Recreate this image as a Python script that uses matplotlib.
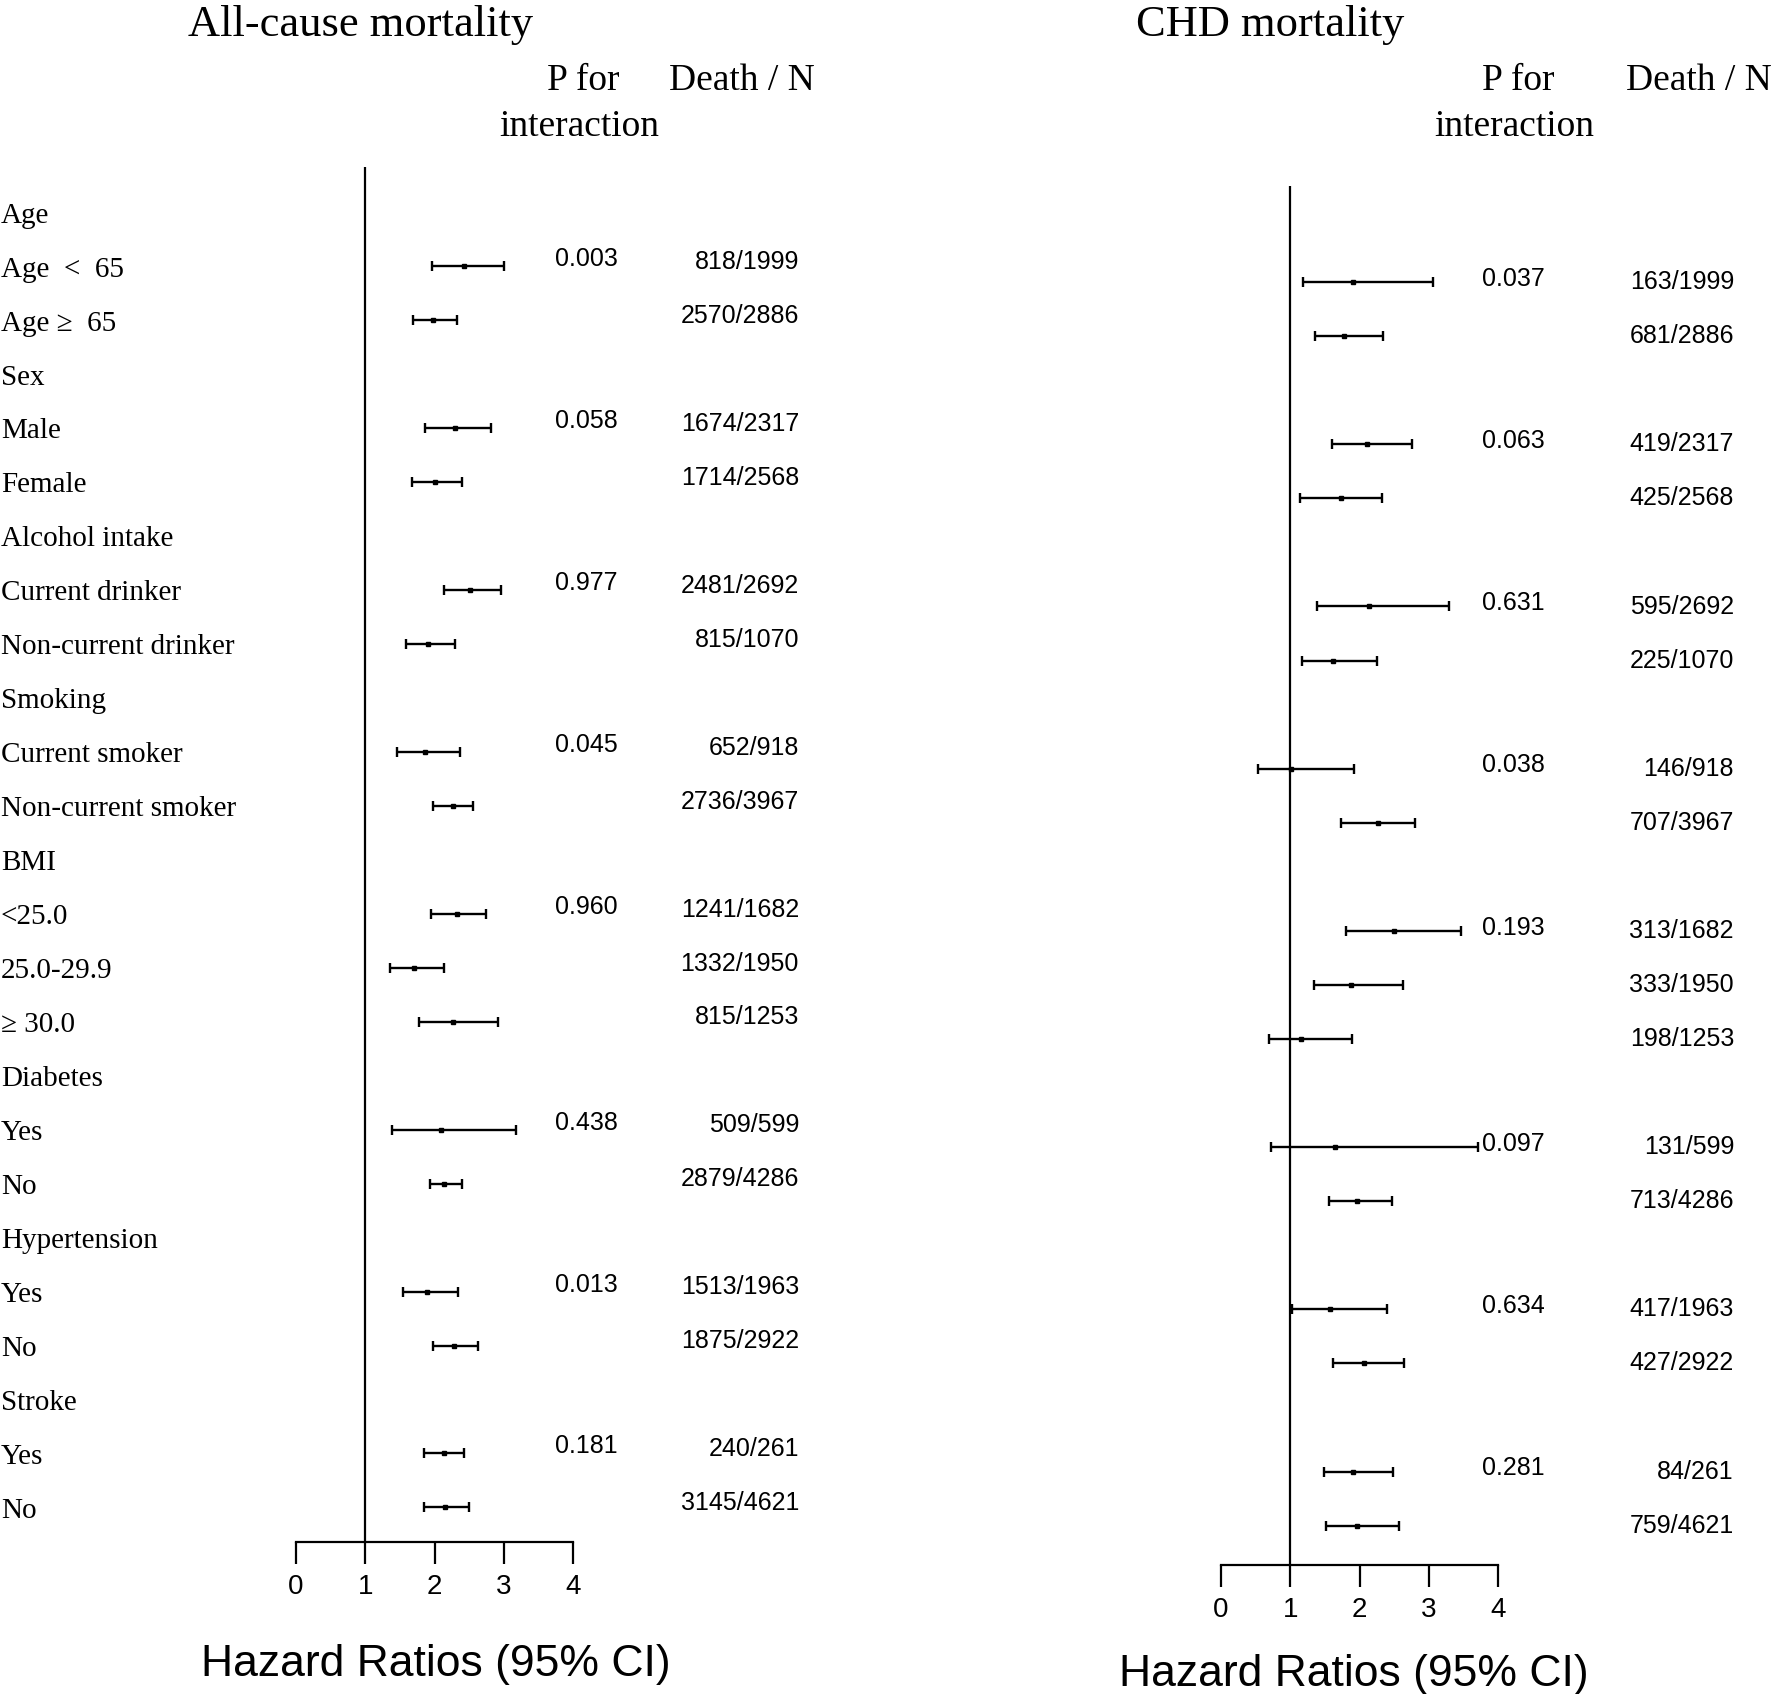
import numpy as np
import matplotlib
matplotlib.use("Agg")
import matplotlib.pyplot as plt
from matplotlib.transforms import blended_transform_factory

# --- DATA ---
row_labels = ["Age", "Age  <  65", "Age \u2265  65", "Sex", "Male", "Female",
              "Alcohol intake", "Current drinker", "Non-current drinker",
              "Smoking", "Current smoker", "Non-current smoker",
              "BMI", "<25.0", "25.0-29.9", "\u2265 30.0",
              "Diabetes", "Yes", "No", "Hypertension", "Yes", "No",
              "Stroke", "Yes", "No"]
header_rows = [0, 3, 6, 9, 12, 16, 19, 22]
sub_rows = [1, 2, 4, 5, 7, 8, 10, 11, 13, 14, 15, 17, 18, 20, 21, 23, 24]

# All-cause mortality
all_hr = [2.43, 1.98, 2.29, 2.00, 2.51, 1.90, 1.86, 2.26, 2.32, 1.70, 2.27, 2.10, 2.14, 1.89, 2.28, 2.13, 2.15]
all_lo = [1.97, 1.69, 1.87, 1.68, 2.13, 1.59, 1.46, 1.98, 1.95, 1.36, 1.78, 1.38, 1.93, 1.55, 1.98, 1.85, 1.85]
all_hi = [3.01, 2.33, 2.81, 2.39, 2.96, 2.29, 2.37, 2.55, 2.75, 2.13, 2.91, 3.18, 2.39, 2.34, 2.63, 2.43, 2.50]
all_p = ["0.003", "0.058", "0.977", "0.045", "0.960", "0.438", "0.013", "0.181"]
all_n = ["818/1999", "2570/2886", "1674/2317", "1714/2568", "2481/2692", "815/1070",
         "652/918", "2736/3967", "1241/1682", "1332/1950", "815/1253", "509/599",
         "2879/4286", "1513/1963", "1875/2922", "240/261", "3145/4621"]

# CHD mortality
chd_hr = [1.90, 1.78, 2.11, 1.74, 2.13, 1.62, 1.01, 2.27, 2.50, 1.88, 1.15, 1.64, 1.96, 1.58, 2.06, 1.91, 1.96]
chd_lo = [1.19, 1.36, 1.61, 1.14, 1.38, 1.17, 0.53, 1.73, 1.80, 1.34, 0.70, 0.72, 1.56, 1.03, 1.62, 1.49, 1.51]
chd_hi = [3.06, 2.34, 2.76, 2.32, 3.29, 2.25, 1.92, 2.80, 3.47, 2.63, 1.89, 3.71, 2.47, 2.40, 2.64, 2.48, 2.57]
chd_p = ["0.037", "0.063", "0.631", "0.038", "0.193", "0.097", "0.634", "0.281"]
chd_n = ["163/1999", "681/2886", "419/2317", "425/2568", "595/2692", "225/1070",
         "146/918", "707/3967", "313/1682", "333/1950", "198/1253", "131/599",
         "713/4286", "417/1963", "427/2922", "84/261", "759/4621"]

hr_ticks = [0, 1, 2, 3, 4]

# --- LAYOUT (pixels of the output image) ---
W, H = 1772, 1694
SERIF = ["Liberation Serif", "DejaVu Serif"]
SANS = ["Liberation Sans", "DejaVu Sans"]
plt.rcParams["font.family"] = SERIF

fig = plt.figure(figsize=(W / 100, H / 100), dpi=100)


def px(x, y):
    return x / W, 1 - y / H


def panel(title, x0, x4, y_top, y_axis, row0, step, hr, lo, hi, pvals, deaths,
          title_x, p_x, p_head_x, n_right, head_right, xlabel_x, xlabel_y,
          p_off, n_off, show_labels):
    ax = fig.add_axes([x0 / W, 1 - y_axis / H, (x4 - x0) / W, (y_axis - y_top) / H])
    ax.set_xlim(0, 4)
    ax.set_ylim((y_axis - row0) / step, (y_top - row0) / step)
    for s in ["top", "right", "left"]:
        ax.spines[s].set_visible(False)
    ax.spines["bottom"].set_linewidth(1.6)
    ax.set_yticks([])
    ax.set_xticks(hr_ticks)
    ax.tick_params(axis="x", length=16, width=1.6, pad=7, labelsize=20)
    for t in ax.get_xticklabels():
        t.set_family(SANS)
    ax.axvline(1, color="black", lw=1.6)

    hr = np.array(hr)
    rows = np.array(sub_rows)
    ax.errorbar(hr, rows, xerr=[hr - np.array(lo), np.array(hi) - hr],
                fmt="s", ms=3.5, color="black", ecolor="black",
                elinewidth=1.7, capsize=3.5, capthick=1.7, clip_on=False)

    tr = blended_transform_factory(fig.transFigure, ax.transData)
    if show_labels:
        for i, lab in enumerate(row_labels):
            ax.text(1 / W, i + 0.19, lab, transform=tr, fontsize=21,
                    ha="left", va="baseline", family=SERIF)
    for h, p in zip(header_rows, pvals):
        ax.text(p_x / W, h + 1 + p_off, p, transform=tr, fontsize=18,
                ha="center", va="baseline", family=SANS)
    for r, n in zip(sub_rows, deaths):
        ax.text(n_right / W, r + n_off, n, transform=tr, fontsize=18,
                ha="right", va="baseline", family=SANS)

    fig.text(*px(title_x, 36), title, fontsize=32, ha="center", va="baseline")
    fig.text(*px(p_head_x + 4, 90), "P for", fontsize=27, ha="center", va="baseline")
    fig.text(*px(p_head_x, 136), "interaction", fontsize=27, ha="center", va="baseline")
    fig.text(*px(head_right, 90), "Death / N", fontsize=27, ha="right", va="baseline")
    fig.text(*px(xlabel_x, xlabel_y), "Hazard Ratios (95% CI)",
             fontsize=32, ha="center", va="baseline", family=SANS)
    return ax


panel("All-cause mortality", 296, 573, 167, 1542, 212.4, 53.96,
      all_hr, all_lo, all_hi, all_p, all_n,
      title_x=361, p_x=586, p_head_x=579, n_right=799, head_right=815,
      xlabel_x=436, xlabel_y=1676, p_off=0.0, n_off=0.05, show_labels=True)

panel("CHD mortality", 1221, 1498, 186, 1565, 228.0, 54.07,
      chd_hr, chd_lo, chd_hi, chd_p, chd_n,
      title_x=1270, p_x=1513, p_head_x=1514, n_right=1734, head_right=1772,
      xlabel_x=1354, xlabel_y=1686, p_off=0.07, n_off=0.13, show_labels=False)

fig.savefig("out.png", dpi=100, facecolor="white")
